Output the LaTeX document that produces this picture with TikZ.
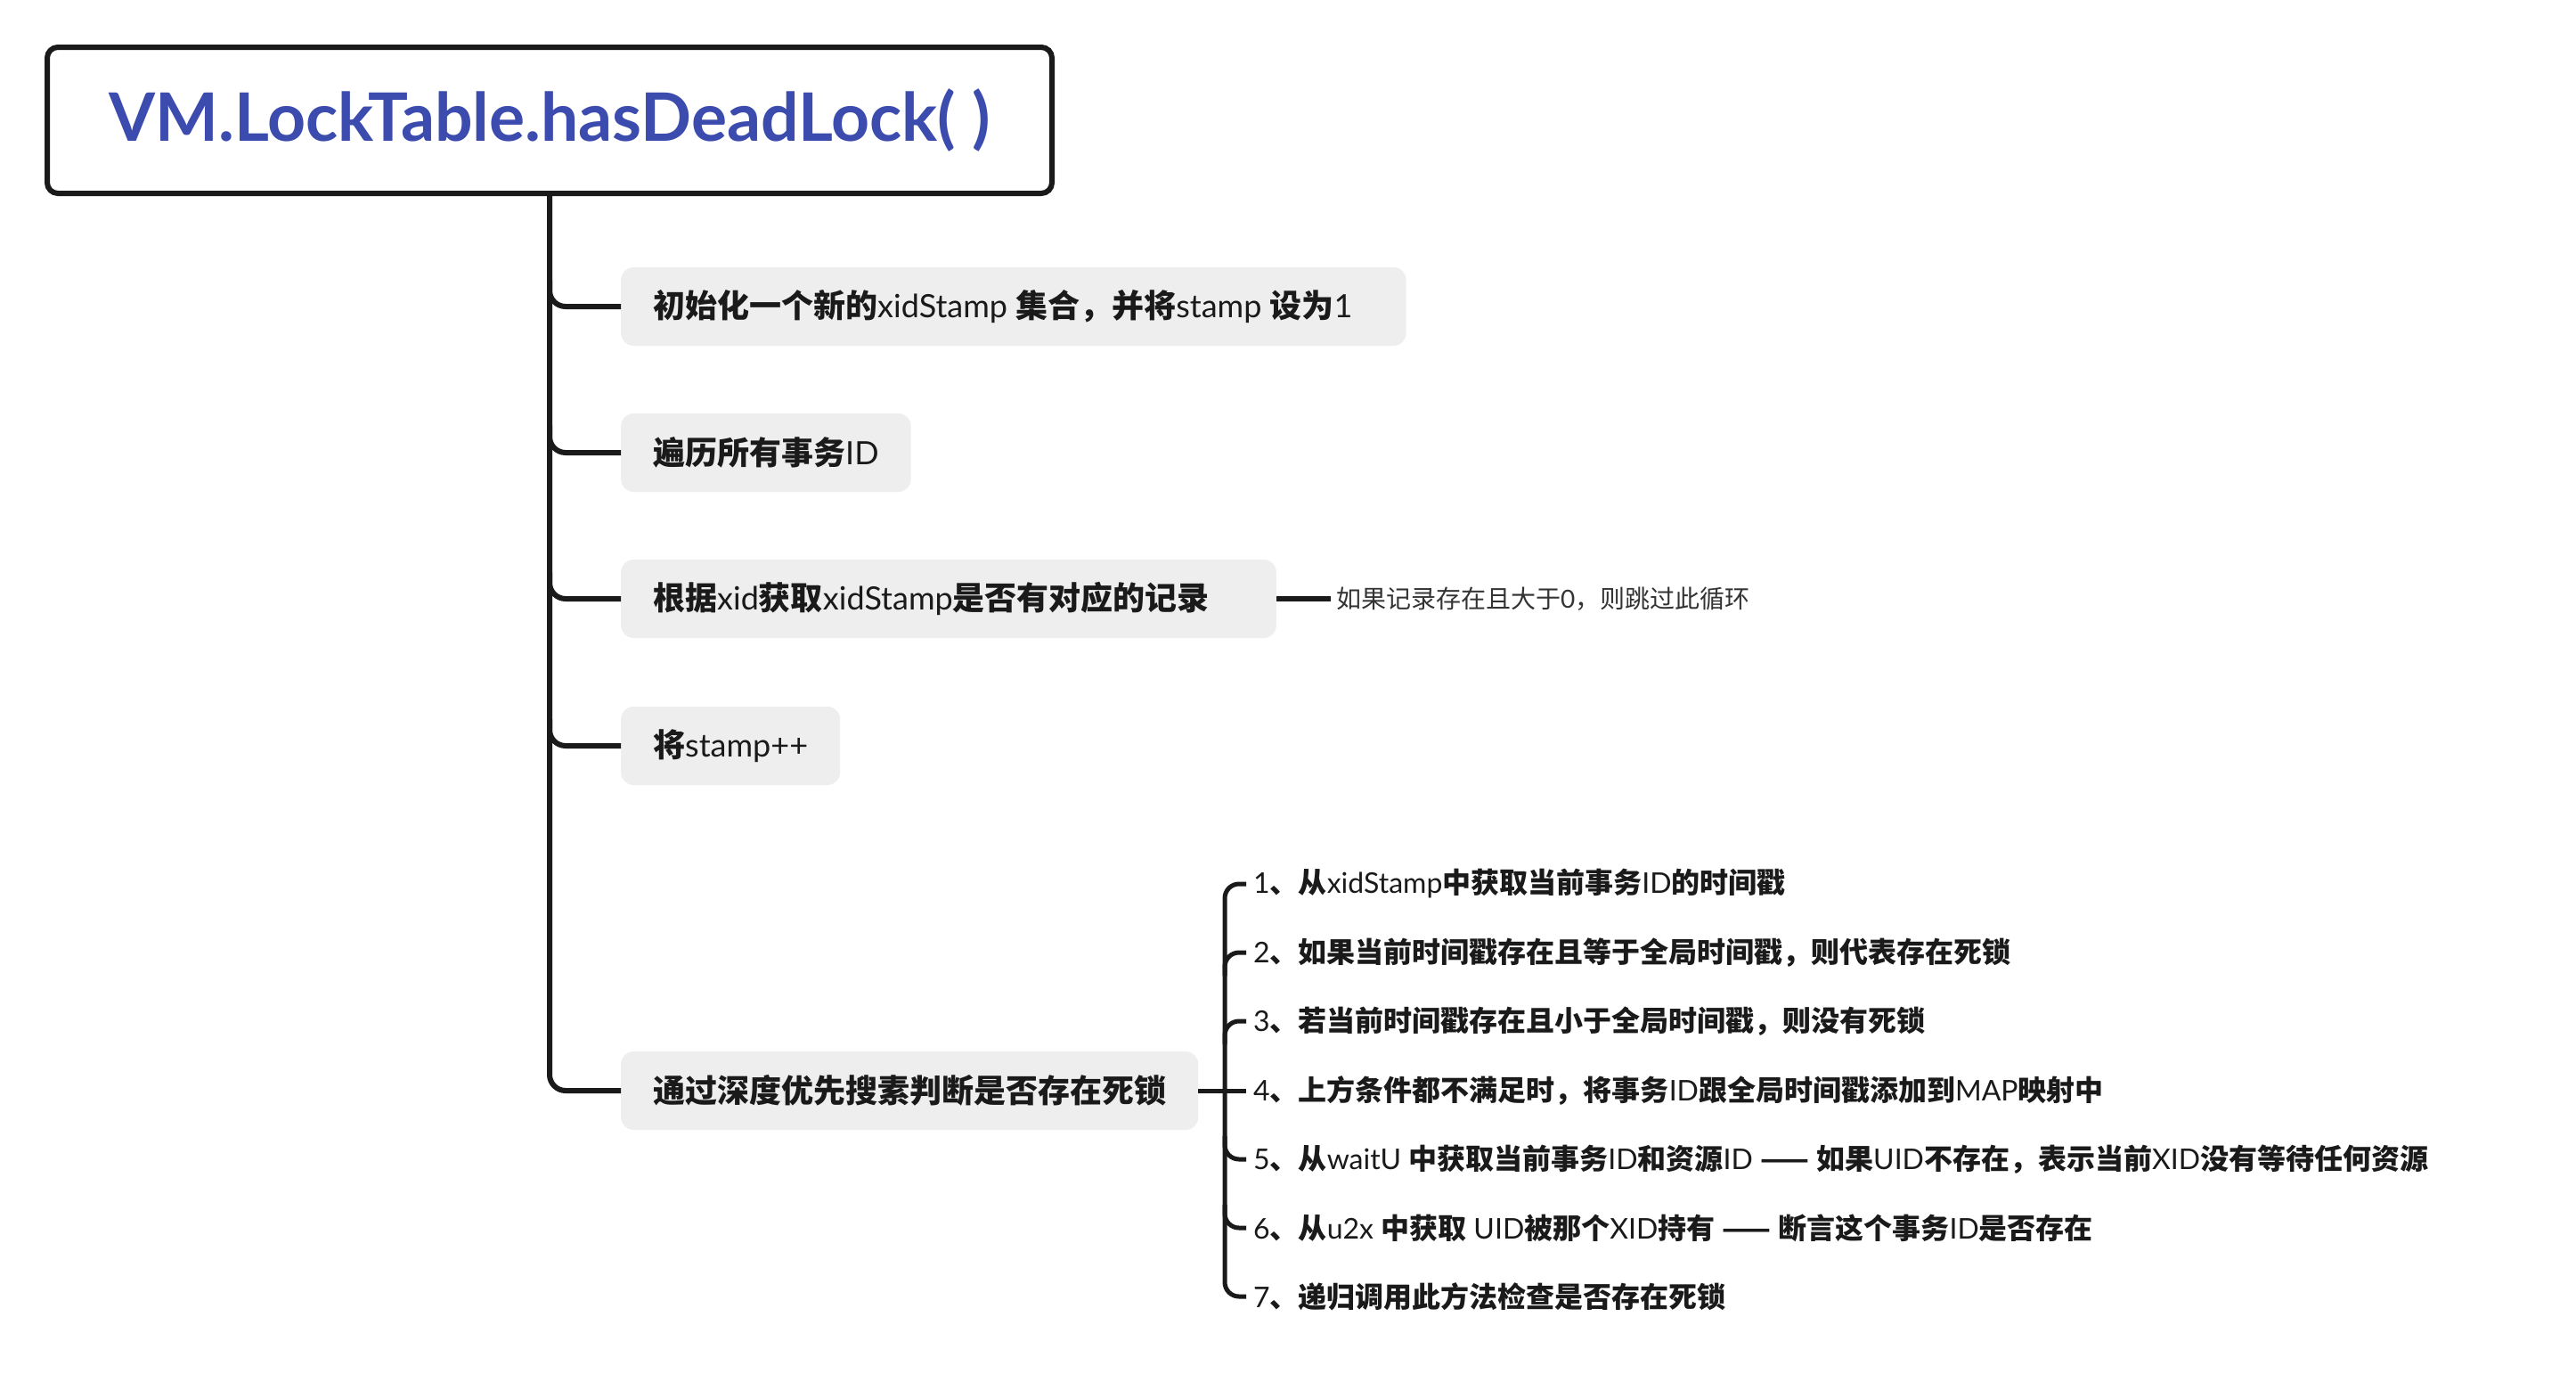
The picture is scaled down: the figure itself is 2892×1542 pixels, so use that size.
\documentclass[tikz,border=0pt]{standalone}
\usepackage{fontspec}
\setmainfont{Lato}
\newfontfamily\cjk{Noto Sans CJK SC}
\newcommand\cb[1]{{\cjk\bfseries #1}}
\newcommand\cjr[1]{{\cjk #1}}
\definecolor{linec}{HTML}{1A1A1A}
\definecolor{titleblue}{HTML}{3B4BAE}
\definecolor{boxgray}{HTML}{EEEEEE}
\definecolor{textdark}{HTML}{1A1A1A}
\definecolor{notegray}{HTML}{333333}
\tikzset{
  titlebox/.style={draw=linec, line width=6pt, rounded corners=12pt, minimum width=1128pt, minimum height=164pt, text=titleblue, font=\fontsize{75}{85}\selectfont\bfseries, inner sep=0pt},
  stepbox/.style={fill=boxgray, rounded corners=14pt, inner xsep=36pt, inner ysep=0pt, minimum height=88pt, anchor=west, text=textdark, font=\fontsize{36}{40}\selectfont},
  itemtext/.style={anchor=west, inner xsep=8pt, inner ysep=0pt, text=textdark, font=\fontsize{32}{36}\selectfont},
  notetext/.style={anchor=west, inner xsep=6pt, inner ysep=0pt, text=notegray, font=\fontsize{28}{32}\selectfont},
  conn/.style={draw=linec, line width=6pt, rounded corners=18pt},
  subconn/.style={draw=linec, line width=5pt, rounded corners=16pt},
}
\begin{document}
\begin{tikzpicture}[x=1pt,y=-1pt]
\useasboundingbox[fill=white] (0,0) rectangle (2892,1542);
\node[titlebox] (title) at (617,135) {VM.LockTable.hasDeadLock( )};
\node[stepbox] (b1) at (697,344) {\cb{初始化一个新的}xidStamp \cb{集合，并将}stamp \cb{设为}1\hspace*{24pt}};
\node[stepbox] (b2) at (697,508) {\cb{遍历所有事务}ID};
\node[stepbox] (b3) at (697,672) {\cb{根据}xid\cb{获取}xidStamp\cb{是否有对应的记录}\hspace*{39pt}};
\node[stepbox] (b4) at (697,837) {\cb{将}stamp++};
\node[stepbox] (b5) at (697,1224) {\cb{通过深度优先搜素判断是否存在死锁}};
\node[notetext] (n3) at (1494,672) {\cjr{如果记录存在且大于}0\cjr{，则跳过此循环}};
\node[itemtext] (i1) at (1399,992) {1\cb{、从}xidStamp\cb{中获取当前事务}ID\cb{的时间戳}};
\node[itemtext] (i2) at (1399,1069) {2\cb{、如果当前时间戳存在且等于全局时间戳，则代表存在死锁}};
\node[itemtext] (i3) at (1399,1146) {3\cb{、若当前时间戳存在且小于全局时间戳，则没有死锁}};
\node[itemtext] (i4) at (1399,1224) {4\cb{、上方条件都不满足时，将事务}ID\cb{跟全局时间戳添加到}MAP\cb{映射中}};
\node[itemtext] (i5) at (1399,1301) {5\cb{、从}waitU \cb{中获取当前事务}ID\cb{和资源}ID \cb{——} \cb{如果}UID\cb{不存在，表示当前}XID\cb{没有等待任何资源}};
\node[itemtext] (i6) at (1399,1378) {6\cb{、从}u2x \cb{中获取} UID\cb{被那个}XID\cb{持有} \cb{——} \cb{断言这个事务}ID\cb{是否存在}};
\node[itemtext] (i7) at (1399,1455) {7\cb{、递归调用此方法检查是否存在死锁}};
% main trunk
\draw[conn] (title.south) |- (b5.west);
\foreach \b in {b1,b2,b3,b4}{
  \draw[conn] ([yshift=30pt]\b.west -| title.south) |- (\b.west);
}
% note
\draw[conn] (b3.east) -- (n3.west);
% sub spine
\coordinate (sp) at (1375,1224);
\draw[subconn] (b5.east) -- (i4.west);
\draw[subconn] (i1.west) -| (sp) |- (i7.west);
\foreach \i in {i2,i3}{
  \draw[subconn] ([yshift=-26pt]\i.west -| sp) |- (\i.west);
}
\foreach \i in {i5,i6}{
  \draw[subconn] ([yshift=26pt]\i.west -| sp) |- (\i.west);
}
\end{tikzpicture}
\end{document}
